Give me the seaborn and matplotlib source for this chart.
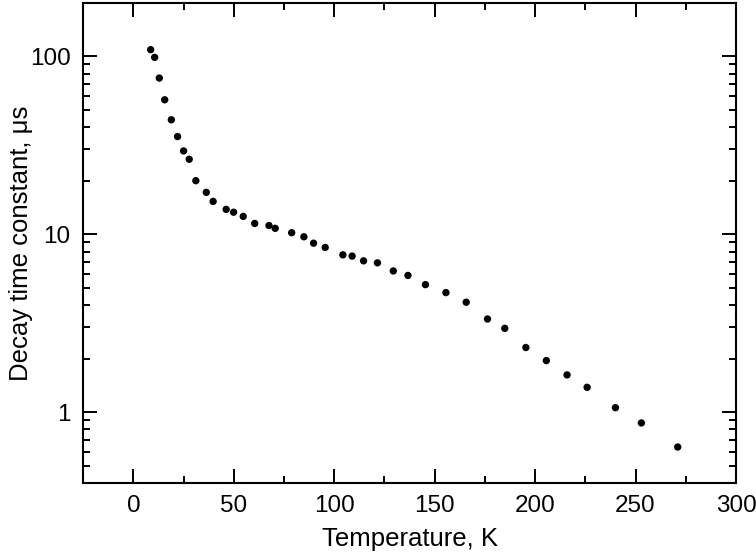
import pandas as pd
import matplotlib
matplotlib.use("Agg")
import matplotlib.pyplot as plt
from matplotlib.ticker import MultipleLocator, LogLocator, NullFormatter, FixedLocator
import seaborn as sns


# data
temperature = [8.6, 10.6, 12.9, 15.6, 18.9, 22.0, 25.0, 27.8, 31.1, 36.3,
               39.7, 46.2, 49.9, 54.7, 60.4, 67.5, 70.6, 78.8, 84.9, 89.7,
               95.5, 104.3, 108.9, 114.6, 121.5, 129.4, 136.7, 145.4, 155.6, 165.7,
               176.3, 184.9, 195.4, 205.6, 215.9, 225.9, 240.0, 252.9, 271.0]
decay_time = [109, 98.7, 75.5, 57.0, 44.0, 35.4, 29.4, 26.4, 20.0, 17.2,
              15.3, 13.8, 13.3, 12.6, 11.5, 11.2, 10.8, 10.2, 9.68, 8.91,
              8.43, 7.66, 7.54, 7.09, 6.91, 6.22, 5.87, 5.21, 4.70, 4.15,
              3.34, 2.96, 2.31, 1.95, 1.62, 1.38, 1.06, 0.87, 0.637]

x_ticks = [0, 50, 100, 150, 200, 250, 300]
y_ticks = [1, 10, 100]
y_tick_labels = ['1', '10', '100']


def plot_decay(data):
    sns.set_style("ticks")
    plt.rcParams['font.family'] = ['Liberation Sans', 'DejaVu Sans']
    plt.rcParams['text.color'] = 'black'
    plt.rcParams['axes.labelcolor'] = 'black'

    fig, ax = plt.subplots(figsize=(7.56, 5.59), dpi=100)
    fig.subplots_adjust(left=0.110, right=0.9735, top=0.995, bottom=0.136)

    sns.scatterplot(data=data, x='T', y='tau', color='black', s=28,
                    edgecolor='none', ax=ax)

    ax.set_yscale('log')
    ax.set_xlim(-25, 300)
    ax.set_ylim(0.4, 200)

    ax.xaxis.set_major_locator(FixedLocator(x_ticks))
    ax.xaxis.set_minor_locator(MultipleLocator(25))
    ax.yaxis.set_major_locator(FixedLocator(y_ticks))
    ax.set_yticklabels(y_tick_labels)
    ax.yaxis.set_minor_locator(LogLocator(base=10, subs=range(2, 10)))
    ax.yaxis.set_minor_formatter(NullFormatter())

    ax.tick_params(which='both', direction='in', top=True, right=True,
                   labelsize=17.5, width=1.4, color='black', labelcolor='black')
    ax.tick_params(which='major', length=10, pad=9)
    ax.tick_params(which='minor', length=5)

    for side in ax.spines.values():
        side.set_linewidth(1.5)
        side.set_color('black')

    ax.set_xlabel('Temperature, K', fontsize=18.5, labelpad=7)
    ax.set_ylabel('Decay time constant, μs', fontsize=18.5, labelpad=-2)

    fig.savefig('out.png', dpi=100)


if __name__ == "__main__":
    df = pd.DataFrame({'T': temperature, 'tau': decay_time})
    plot_decay(df)
